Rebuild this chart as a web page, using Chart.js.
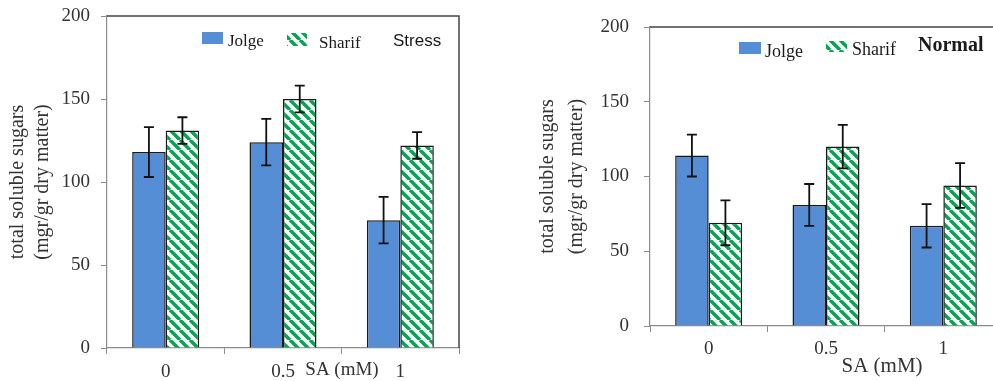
<!DOCTYPE html>
<html>
<head>
<meta charset="utf-8">
<script src="https://cdn.jsdelivr.net/npm/chart.js@4.4.0/dist/chart.umd.min.js"></script>
<style>
  html, body { margin: 0; padding: 0; background: #fff; overflow: hidden; }
  #wrap { position: relative; width: 993px; height: 381px; overflow: hidden; }
  #stressBox { position: absolute; left: 0; top: 0; }
  #normalBox { position: absolute; left: 500px; top: 0; }
</style>
</head>
<body>
<div id="wrap">
  <div id="stressBox"><canvas id="chartStress" width="500" height="381"></canvas></div>
  <div id="normalBox"><canvas id="chartNormal" width="510" height="381"></canvas></div>
</div>
<script>
// datos
const etiquetasSA = ['0', '0.5', '1'];
const yTicks = [0, 50, 100, 150, 200];

const jolgeStress = [118, 124, 77];
const jolgeStressErr = [15, 14, 14];
const sharifStress = [131, 150, 122];
const sharifStressErr = [8, 8, 8];

const jolgeNormal = [114, 81, 67];
const jolgeNormalErr = [14, 14, 14.5];
const sharifNormal = [69, 120, 94];
const sharifNormalErr = [15, 14.5, 15];

const azul = '#558ed5';
const verde = '#00a650';
const borde = '#1a1a1a';
const gris = '#8c8c8c';
const texto = '#333';

Chart.defaults.font.family = '"Liberation Serif", "Times New Roman", serif';

function getRayas() {
    const size = 10;
    const c = document.createElement('canvas');
    c.width = size; c.height = size;
    const g = c.getContext('2d');
    g.fillStyle = '#fff';
    g.fillRect(0, 0, size, size);
    g.strokeStyle = verde;
    g.lineWidth = 3.5;
    g.beginPath();
    [-size, 0, size].forEach(k => {
        g.moveTo(k, 0);
        g.lineTo(k + size, size);
    });
    g.stroke();
    return g.createPattern(c, 'repeat');
}

// barras de error
const barrasError = {
    id: 'barrasError',
    afterDatasetsDraw(chart) {
        const ctx = chart.ctx;
        const y = chart.scales.y;
        chart.data.datasets.forEach((ds, i) => {
            chart.getDatasetMeta(i).data.forEach((bar, j) => {
                const top = y.getPixelForValue(ds.data[j] + ds.errores[j]);
                const bot = y.getPixelForValue(ds.data[j] - ds.errores[j]);
                ctx.save();
                ctx.strokeStyle = '#111';
                ctx.lineWidth = 1.8;
                ctx.beginPath();
                ctx.moveTo(bar.x, top); ctx.lineTo(bar.x, bot);
                ctx.moveTo(bar.x - 5, top); ctx.lineTo(bar.x + 5, top);
                ctx.moveTo(bar.x - 5, bot); ctx.lineTo(bar.x + 5, bot);
                ctx.stroke();
                ctx.restore();
            });
        });
    }
};

// marco superior y derecho
const marco = {
    id: 'marco',
    afterDraw(chart) {
        const a = chart.chartArea;
        const ctx = chart.ctx;
        ctx.save();
        ctx.strokeStyle = '#444';
        ctx.lineWidth = 1.5;
        ctx.beginPath();
        ctx.moveTo(a.left, a.top);
        ctx.lineTo(a.right, a.top);
        ctx.lineTo(a.right, a.bottom);
        ctx.stroke();
        ctx.restore();
    }
};

// leyenda y textos sueltos
const leyenda = {
    id: 'leyenda',
    afterDraw(chart, args, opts) {
        const ctx = chart.ctx;
        const ds = chart.data.datasets;
        ctx.save();
        ctx.fillStyle = ds[0].backgroundColor;
        ctx.fillRect(opts.caja.x, opts.caja.y, opts.caja.w, opts.caja.h);
        ctx.fillStyle = ds[1].backgroundColor;
        ctx.fillRect(opts.rayas.x, opts.rayas.y, opts.rayas.w, opts.rayas.h);
        ctx.fillStyle = '#1a1a1a';
        ctx.textBaseline = 'alphabetic';
        ctx.textAlign = 'left';
        ctx.font = opts.fuente1;
        ctx.fillText(ds[0].label, opts.t1.x, opts.t1.y);
        ctx.font = opts.fuente2;
        ctx.fillText(ds[1].label, opts.t2.x, opts.t2.y);
        ctx.font = opts.fuente3;
        ctx.textBaseline = 'middle';
        ctx.fillText(opts.titulo, opts.t3.x, opts.t3.y);
        ctx.fillStyle = texto;
        ctx.textAlign = 'center';
        ctx.font = opts.fuenteSA;
        ctx.fillText('SA (mM)', opts.sa.x, opts.sa.y);
        ctx.restore();
    }
};

function graficoBarras(ctx, jolge, jolgeErr, sharif, sharifErr, cfg) {
    return new Chart(ctx, {
        type: 'bar',
        data: {
            labels: etiquetasSA,
            datasets: [{
                label: 'Jolge',
                data: jolge,
                errores: jolgeErr,
                backgroundColor: azul,
                borderColor: borde,
                borderWidth: 1.5
            }, {
                label: 'Sharif',
                data: sharif,
                errores: sharifErr,
                backgroundColor: getRayas(),
                borderColor: borde,
                borderWidth: 1.5
            }]
        },
        options: {
            responsive: false,
            animation: false,
            categoryPercentage: 0.571,
            barPercentage: 1,
            layout: { padding: cfg.padding },
            plugins: {
                legend: { display: false },
                tooltip: { enabled: false },
                leyenda: cfg.leyenda
            },
            scales: {
                x: {
                    grid: { drawOnChartArea: false, tickLength: 6, color: gris, offset: true },
                    border: { color: gris, width: 1.2 },
                    ticks: { font: { size: 19 }, color: texto, padding: cfg.padX },
                    afterFit: s => { s.height = cfg.altoX }
                },
                y: {
                    min: 0,
                    max: 200,
                    afterBuildTicks: s => { s.ticks = yTicks.map(v => ({ value: v })) },
                    grid: { drawOnChartArea: false, tickLength: 6, color: gris },
                    border: { color: gris, width: 1.2 },
                    ticks: { font: { size: 19 }, color: texto, padding: cfg.padY },
                    title: {
                        display: true,
                        text: ['total soluble sugars', '(mgr/gr dry matter)'],
                        color: texto,
                        font: { size: 20, lineHeight: cfg.interlinea },
                        padding: { top: cfg.tituloPad, bottom: 0 }
                    },
                    afterFit: s => {
                        s.width = cfg.anchoY;
                        s.paddingTop = 11;
                        s.paddingBottom = 11;
                    }
                }
            }
        },
        plugins: [barrasError, marco, leyenda]
    });
}

function renderCharts() {
    const ctxStress = document.querySelector('#chartStress').getContext('2d');
    const ctxNormal = document.querySelector('#chartNormal').getContext('2d');

    graficoBarras(ctxStress, jolgeStress, jolgeStressErr, sharifStress, sharifStressErr, {
        padding: { top: 16, right: 41, left: 0, bottom: 0 },
        altoX: 33,
        anchoY: 107,
        padX: 7,
        padY: 11,
        interlinea: 1.25,
        tituloPad: 5.5,
        leyenda: {
            caja: { x: 202, y: 32, w: 21, h: 12 },
            rayas: { x: 287, y: 33, w: 20, h: 13 },
            t1: { x: 228, y: 46 },
            t2: { x: 319, y: 48 },
            t3: { x: 393, y: 41 },
            fuente1: '17px "Liberation Serif"',
            fuente2: '17px "Liberation Serif"',
            fuente3: '17px "Liberation Sans"',
            titulo: 'Stress',
            fuenteSA: '19px "Liberation Serif"',
            sa: { x: 342, y: 370 }
        }
    });

    graficoBarras(ctxNormal, jolgeNormal, jolgeNormalErr, sharifNormal, sharifNormalErr, {
        padding: { top: 27, right: 8, left: 0, bottom: 0 },
        altoX: 55,
        anchoY: 150,
        padX: 6,
        padY: 15,
        interlinea: 1.45,
        tituloPad: 33.5,
        leyenda: {
            caja: { x: 239, y: 42, w: 22, h: 12 },
            rayas: { x: 326, y: 41, w: 21, h: 11 },
            t1: { x: 265, y: 57 },
            t2: { x: 352, y: 55 },
            t3: { x: 418, y: 46 },
            fuente1: '18px "Liberation Serif"',
            fuente2: '18px "Liberation Serif"',
            fuente3: 'bold 20px "Liberation Serif"',
            titulo: 'Normal',
            fuenteSA: '21px "Liberation Serif"',
            sa: { x: 382, y: 366 }
        }
    });
}
renderCharts()
</script>
</body>
</html>
